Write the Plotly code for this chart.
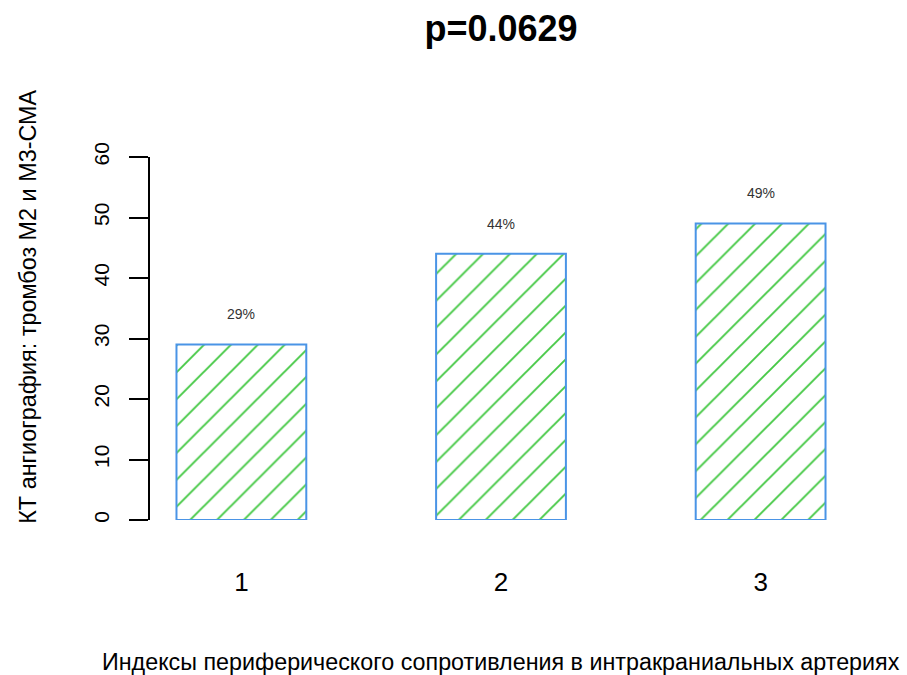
import plotly.graph_objects as go

# Data
categories = ["1", "2", "3"]
values = [29, 44, 49]
value_labels = ["29%", "44%", "49%"]
y_ticks = [0, 10, 20, 30, 40, 50, 60]

title_text = "p=0.0629"
x_title = "Индексы периферического сопротивления в интракраниальных артериях"
y_title = "КТ ангиография: тромбоз М2 и М3-СМА"

FONT = "Liberation Sans, Arial, sans-serif"
x_pos = [1, 2, 3]

fig = go.Figure()
fig.add_trace(go.Bar(
    x=x_pos,
    y=values,
    width=0.5,
    marker=dict(
        color="white",
        line=dict(color="#4a94e6", width=2),
        pattern=dict(shape="/", fgcolor="#44c844", bgcolor="white", fgopacity=1,
                     size=19, solidity=0.1, fillmode="overlay"),
    ),
    hoverinfo="skip",
))

# percentage labels above each bar
for xv, v, lab in zip(x_pos, values, value_labels):
    fig.add_annotation(x=xv, y=v + 5, text=lab, showarrow=False,
                       xanchor="center", yanchor="middle",
                       font=dict(family=FONT, size=14, color="#333333"))

# axis titles
fig.add_annotation(x=0.5, xref="paper", y=-0.391, yref="paper",
                   text=x_title, showarrow=False, xanchor="center", yanchor="middle",
                   font=dict(family=FONT, size=23.3, color="black"))
fig.add_annotation(x=-0.174, xref="paper", y=0.587, yref="paper",
                   text=y_title, showarrow=False, textangle=-90,
                   xanchor="center", yanchor="middle",
                   font=dict(family=FONT, size=23.4, color="black"))

fig.update_layout(
    width=907, height=675,
    margin=dict(l=150, r=55, t=157, b=155),
    paper_bgcolor="white", plot_bgcolor="white",
    showlegend=False,
    title=dict(text="<b>" + title_text + "</b>", x=501 / 907, xanchor="center",
               y=1 - 28 / 675, yanchor="middle",
               font=dict(family=FONT, size=36, color="black")),
    xaxis=dict(
        range=[0.648, 3.352],
        tickvals=x_pos, ticktext=categories,
        showline=False, showgrid=False, zeroline=False,
        ticks="", tickfont=dict(family=FONT, size=26, color="black"),
        ticklabelstandoff=44,
    ),
    yaxis=dict(
        range=[0, 60],
        tickvals=y_ticks, ticktext=[str(t) for t in y_ticks],
        showline=True, linecolor="black", linewidth=1.5,
        showgrid=False, zeroline=False,
        ticks="outside", ticklen=19, tickwidth=1.5, tickcolor="black",
        tickangle=-90,
        tickfont=dict(family=FONT, size=21, color="black"),
        ticklabelstandoff=12,
    ),
)

fig.write_html("out.html")
